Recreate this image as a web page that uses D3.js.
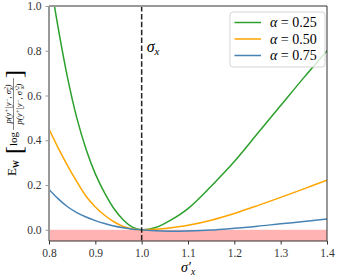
<!DOCTYPE html>
<html>
<head>
<meta charset="utf-8">
<script src="https://cdn.jsdelivr.net/npm/d3@7"></script>
<style>
  body { margin: 0; background: #fff; }
</style>
</head>
<body>
<svg id="drawing_region"></svg>
<script>
const sigmas = [0.80, 0.82, 0.84, 0.86, 0.88, 0.90, 0.92, 0.94, 0.96, 0.98,
                1.00, 1.03, 1.06, 1.10, 1.15, 1.20, 1.25, 1.30, 1.35, 1.40];
const alpha025 = [1.15, 0.90, 0.68, 0.50, 0.36, 0.25, 0.165, 0.095, 0.045, 0.012,
                  0.0, 0.01, 0.04, 0.095, 0.195, 0.305, 0.43, 0.555, 0.68, 0.80];
const alpha050 = [0.45, 0.365, 0.287, 0.215, 0.15, 0.102, 0.065, 0.036, 0.015, 0.004,
                  0.0, 0.002, 0.008, 0.02, 0.043, 0.073, 0.108, 0.145, 0.183, 0.222];
const alpha075 = [0.18, 0.138, 0.103, 0.077, 0.057, 0.041, 0.028, 0.017, 0.009, 0.003,
                  0.0, -0.004, -0.006, -0.005, -0.001, 0.007, 0.016, 0.027, 0.037, 0.048];
const seriesNames = ["0.25", "0.50", "0.75"];
const xTicks = [0.8, 0.9, 1.0, 1.1, 1.2, 1.3, 1.4];
const yTicks = [0.0, 0.2, 0.4, 0.6, 0.8, 1.0];

const FONT = '"Liberation Serif", "DejaVu Serif", serif';
const colors = ["#2ca02c", "#ffa500", "#4682b4"];
const W = 349, H = 276;
const m = {left: 49, right: 22, top: 6, bottom: 35};

const svg = d3.select('#drawing_region').attr('width', W).attr('height', H)
  .attr('font-family', FONT).style('font-family', FONT);

const x = d3.scaleLinear().domain([0.8, 1.4]).range([m.left, W - m.right]);
const y = d3.scaleLinear().domain([-0.05, 1.0]).range([H - m.bottom, m.top]);

svg.append('clipPath').attr('id', 'clip')
  .append('rect')
  .attr('x', x(0.8)).attr('y', y(1.0))
  .attr('width', x(1.4) - x(0.8)).attr('height', y(-0.05) - y(1.0));

const plot = svg.append('g').attr('clip-path', 'url(#clip)');

// negative region
plot.append('rect')
  .attr('x', x(0.8)).attr('y', y(0))
  .attr('width', x(1.4) - x(0.8)).attr('height', y(-0.05) - y(0))
  .attr('fill', '#ffb3b3');

const line = d3.line()
  .x(d => x(d[0]))
  .y(d => y(d[1]))
  .curve(d3.curveCatmullRom);

[alpha025, alpha050, alpha075].forEach((vals, i) => {
  plot.append('path')
    .datum(sigmas.map((s, k) => [s, vals[k]]))
    .attr('d', line)
    .attr('fill', 'none')
    .attr('stroke', colors[i])
    .attr('stroke-width', 1.5);
});

// true sigma marker
plot.append('line')
  .attr('x1', x(1.0)).attr('x2', x(1.0))
  .attr('y1', y(1.0)).attr('y2', y(-0.05))
  .attr('stroke', '#222').attr('stroke-width', 1.5)
  .attr('stroke-dasharray', '5.5,2.4');

const sx = svg.append('text').attr('x', x(1.0) + 5).attr('y', 52)
  .style('font-size', '16px').style('font-style', 'italic');
sx.append('tspan').text('σ');
sx.append('tspan').attr('dy', 3).style('font-size', '11px').text('x');

// axes
const xAxis = svg.append('g')
  .attr('transform', `translate(0,${y(-0.05)})`)
  .call(d3.axisBottom(x).tickValues(xTicks).tickFormat(d3.format('.1f')).tickSizeOuter(0).tickSize(3.5).tickPadding(4));
xAxis.attr('font-family', FONT);
xAxis.select('.domain').remove();
xAxis.selectAll('line').attr('stroke', '#333');
xAxis.selectAll('text').style('font-size', '11.5px').attr('fill', '#333');

const yAxis = svg.append('g')
  .attr('transform', `translate(${x(0.8)},0)`)
  .call(d3.axisLeft(y).tickValues(yTicks).tickFormat(d3.format('.1f')).tickSizeOuter(0).tickSize(3.5).tickPadding(4));
yAxis.attr('font-family', FONT);
yAxis.select('.domain').remove();
yAxis.selectAll('line').attr('stroke', '#999');
yAxis.selectAll('text').style('font-size', '11.5px').attr('fill', '#333');

// spines
const x0 = x(0.8), x1 = x(1.4), y0 = y(-0.05), y1 = y(1.0);
svg.append('line').attr('x1', x0).attr('x2', x1).attr('y1', y1).attr('y2', y1)
  .attr('stroke', '#999').attr('stroke-width', 2);
svg.append('line').attr('x1', x0).attr('x2', x0).attr('y1', y1).attr('y2', y0)
  .attr('stroke', '#999').attr('stroke-width', 2);
svg.append('line').attr('x1', x0).attr('x2', x1).attr('y1', y0).attr('y2', y0)
  .attr('stroke', '#333').attr('stroke-width', 1);
svg.append('line').attr('x1', x1).attr('x2', x1).attr('y1', y1).attr('y2', y0)
  .attr('stroke', '#333').attr('stroke-width', 1);

// x label
const xl = svg.append('text').attr('x', (x0 + x1) / 2).attr('y', 272)
  .attr('text-anchor', 'middle').style('font-size', '14px').style('font-style', 'italic');
xl.append('tspan').text('σ′');
xl.append('tspan').attr('dy', 2.5).style('font-size', '9.5px').text('x');

// y label
function fracText(g, yPos, prime) {
  const t = g.append('text').attr('x', 19).attr('y', yPos).attr('text-anchor', 'middle')
    .style('font-size', '8.5px').style('font-style', 'italic');
  t.append('tspan').text('p(y');
  t.append('tspan').attr('dy', -2.5).style('font-size', '6px').text('+');
  t.append('tspan').attr('dy', 2.5).text('|y');
  t.append('tspan').attr('dy', -2.5).style('font-size', '6px').text('−');
  t.append('tspan').attr('dy', 2.5).text(prime ? ', σ′' : ', σ');
  t.append('tspan').attr('dy', -3).style('font-size', '6px').text('2');
  t.append('tspan').attr('dx', -3).attr('dy', 5).style('font-size', '6px').text('x');
  t.append('tspan').attr('dy', -2).text(')');
}
const yl = svg.append('g').attr('transform', 'translate(14,123) rotate(-90)');
yl.append('text').attr('x', -53).attr('y', 2).style('font-size', '13px').text('E');
yl.append('text').attr('x', -45).attr('y', 5).style('font-size', '8px').style('font-weight', 'bold').text('W');
yl.append('text').attr('x', -31).attr('y', 8).style('font-size', '24px').text('[');
yl.append('text').attr('x', -23).attr('y', 3).style('font-size', '11px').text('log');
yl.append('line').attr('x1', -7).attr('x2', 45).attr('y1', -0.5).attr('y2', -0.5)
  .attr('stroke', '#333').attr('stroke-width', 0.6);
fracText(yl, -3, false);
fracText(yl, 8, true);
yl.append('text').attr('x', 45).attr('y', 8).style('font-size', '24px').text(']');

// legend
const lg = svg.append('g').attr('transform', 'translate(230,12)');
lg.append('rect').attr('width', 95).attr('height', 55).attr('rx', 3)
  .attr('fill', 'white').attr('fill-opacity', 0.8)
  .attr('stroke', '#d5d5d5').attr('stroke-width', 1);
seriesNames.forEach((name, i) => {
  const yy = 10.5 + i * 16.5;
  lg.append('line').attr('x1', 4.5).attr('x2', 31).attr('y1', yy).attr('y2', yy)
    .attr('stroke', colors[i]).attr('stroke-width', 1.5);
  const t = lg.append('text').attr('x', 40).attr('y', yy + 4.5).style('font-size', '14px');
  t.append('tspan').style('font-style', 'italic').text('α');
  t.append('tspan').text(' = ' + name);
});
</script>
</body>
</html>
